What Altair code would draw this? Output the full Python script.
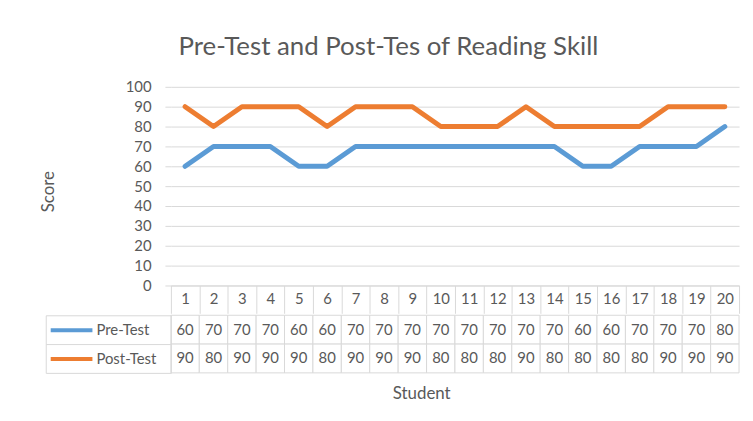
import altair as alt
import pandas as pd

# ---- data ----
students = ["1", "2", "3", "4", "5", "6", "7", "8", "9", "10",
            "11", "12", "13", "14", "15", "16", "17", "18", "19", "20"]
pre_test = [60, 70, 70, 70, 60, 60, 70, 70, 70, 70, 70, 70, 70, 70, 60, 60, 70, 70, 70, 80]
post_test = [90, 80, 90, 90, 90, 80, 90, 90, 90, 80, 80, 80, 90, 80, 80, 80, 80, 90, 90, 90]
series = ["Pre-Test", "Post-Test"]
series_colors = ["#5b9bd5", "#ed7d31"]
y_ticks = [0, 10, 20, 30, 40, 50, 60, 70, 80, 90, 100]

rows = []
for name, vals in zip(series, [pre_test, post_test]):
    for s, v in zip(students, vals):
        rows.append({"Student": s, "Series": name, "Score": v})
df = pd.DataFrame(rows)

FONT = "Lato"
GRAY = "#595959"
GRID = "#d9d9d9"
PLOT_W = 572

x_scale = alt.Scale(type="band", domain=students, paddingInner=0, paddingOuter=0)
color_scale = alt.Scale(domain=series, range=series_colors)

lines = alt.Chart(df).mark_line(
    strokeWidth=5, strokeCap="round", strokeJoin="round"
).encode(
    x=alt.X("Student:N", scale=x_scale, sort=students,
            axis=alt.Axis(title=None, labelAngle=0, tickBand="extent", tickSize=28,
                          tickColor=GRID, domainColor=GRID, labelPadding=-22,
                          labelFontSize=15, labelColor=GRAY, labelFont=FONT, grid=False)),
    y=alt.Y("Score:Q", scale=alt.Scale(domain=[0, 100]),
            axis=alt.Axis(values=y_ticks, title="Score", grid=True, gridColor=GRID,
                          domain=False, tickSize=6, tickColor=GRID, labelPadding=14,
                          labelFontSize=15, labelColor=GRAY, labelFont=FONT,
                          titleFont=FONT, titleFontSize=17, titleColor=GRAY,
                          titleFontWeight="normal", titleX=-123, titleY=105,
                          titleBaseline="middle", titleAlign="center", titleAngle=270)),
    color=alt.Color("Series:N", scale=color_scale, sort=series,
                    legend=alt.Legend(title=None, orient="none", legendX=-109, legendY=236,
                                      symbolType="M-3,0H3", symbolSize=196,
                                      symbolStrokeWidth=4, labelOffset=16, rowPadding=12,
                                      labelFont=FONT, labelFontSize=15, labelColor=GRAY,
                                      direction="vertical")),
).properties(
    width=PLOT_W, height=200,
    title=alt.TitleParams("Pre-Test and Post-Tes of Reading Skill", font=FONT, fontSize=26,
                          color=GRAY, fontWeight="normal", anchor="middle", dx=-67, offset=20),
)

base = alt.Chart(df).encode(
    x=alt.X("Student:N", scale=x_scale, sort=students,
            axis=alt.Axis(title="Student", labels=False, ticks=False, domain=False,
                          titleFont=FONT, titleFontSize=17, titleColor=GRAY,
                          titleFontWeight="normal", titlePadding=13, titleX=252)),
)
y_table = alt.Scale(type="band", domain=series, paddingInner=0, paddingOuter=0)
cells = base.mark_rect(fill="white", stroke=GRID, strokeWidth=1).encode(
    y=alt.Y("Series:N", scale=y_table, sort=series,
            axis=alt.Axis(title=None, labels=False, tickBand="extent", tickSize=126,
                          tickColor=GRID, domainColor=GRID)),
)
texts = base.mark_text(font=FONT, fontSize=15, color=GRAY).encode(
    y=alt.Y("Series:N", scale=y_table, sort=series,
            axis=alt.Axis(title=None, labels=False, ticks=False, orient="left",
                          offset=126, domainColor=GRID)),
    text="Score:Q",
)
table = alt.layer(cells, texts).resolve_axis(y="independent").properties(width=PLOT_W, height=58)

chart = alt.vconcat(lines, table, spacing=0).properties(
    padding={"left": 32, "top": 25, "right": 5, "bottom": 5},
    background="white",
).configure_view(stroke=None)

chart.save("out.html", embed_options={"renderer": "svg", "actions": False})
